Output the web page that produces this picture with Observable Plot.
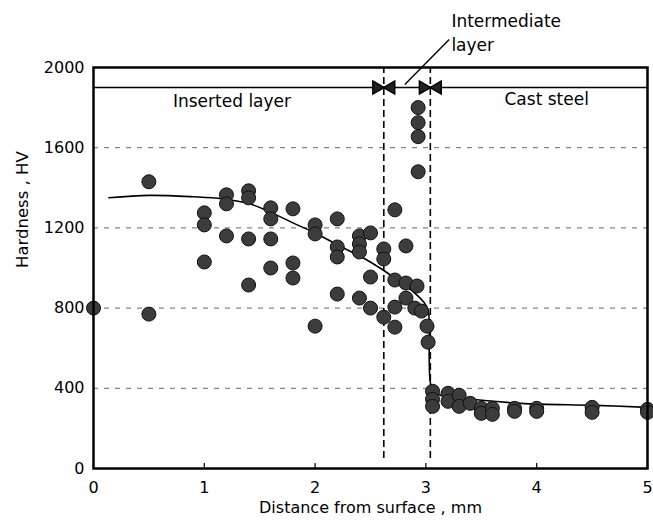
<!DOCTYPE html>
<html>
<head>
<meta charset="utf-8">
<script src="https://cdn.jsdelivr.net/npm/d3@7"></script>
<script src="https://cdn.jsdelivr.net/npm/@observablehq/plot@0.6"></script>
<style>
  html, body { margin: 0; padding: 0; background: #fff; }
  #chart svg { display: block; }
</style>
</head>
<body>
<div id="chart"></div>
<script>
// Measured hardness points (distance from surface, mm ; Hardness, HV)
const distance = [
  0, 0.5, 0.5,
  1.0, 1.0, 1.0,
  1.2, 1.2, 1.2,
  1.4, 1.4, 1.4, 1.4,
  1.6, 1.6, 1.6, 1.6,
  1.8, 1.8, 1.8,
  2.0, 2.0, 2.0,
  2.2, 2.2, 2.2, 2.2,
  2.4, 2.4, 2.4, 2.4,
  2.5, 2.5, 2.5,
  2.62, 2.62, 2.62,
  2.72, 2.72, 2.72, 2.72,
  2.82, 2.82, 2.82,
  2.93, 2.93, 2.93, 2.93, 2.92, 2.9,
  2.96, 3.01, 3.02,
  3.06, 3.06, 3.06,
  3.2, 3.2, 3.3, 3.3, 3.4, 3.5, 3.5, 3.6, 3.6,
  3.8, 3.8, 4.0, 4.0, 4.5, 4.5, 5.0, 5.0
];
const hardness = [
  800, 1430, 770,
  1275, 1215, 1030,
  1365, 1320, 1160,
  1385, 1350, 1145, 915,
  1300, 1245, 1145, 1000,
  1295, 1025, 950,
  1215, 1170, 710,
  1245, 1105, 1055, 870,
  1160, 1120, 1080, 850,
  1175, 955, 800,
  1095, 1045, 755,
  1290, 940, 805, 705,
  1110, 925, 850,
  1800, 1725, 1655, 1480, 910, 800,
  785, 710, 630,
  385, 345, 310,
  375, 335, 365, 310, 325, 300, 275, 300, 270,
  300, 285, 300, 285, 305, 280, 295, 280
];

// Fitted trend curve
const fitX = [0.14, 0.5, 0.9, 1.16, 1.41, 1.61, 1.8, 2.0, 2.22, 2.42, 2.6, 2.78, 2.9, 2.98, 3.02, 3.03, 3.03, 3.04, 3.07, 3.35, 3.86, 4.52, 5.0];
const fitY = [1350, 1362, 1355, 1345, 1320, 1275, 1225, 1175, 1110, 1055, 995, 925, 875, 830, 790, 700, 550, 430, 380, 350, 325, 315, 305];

// Layer boundaries (mm) and the layer-marker line (HV)
const boundaries = [2.62, 3.04];
const markerLevel = 1900;

const xTicks = [0, 1, 2, 3, 4, 5];
const yTicks = [0, 400, 800, 1200, 1600, 2000];
const gridY = [400, 800, 1200, 1600];

const layerLabels = [
  {text: "Inserted layer", x: 1.25, y: 1830},
  {text: "Cast steel", x: 4.09, y: 1840}
];
const noteLines = ["Intermediate", "layer"];

const points = distance.map((d, i) => ({x: d, y: hardness[i]}));
const fit = fitX.map((d, i) => ({x: d, y: fitY[i]}));
const arrows = boundaries.flatMap(b => [{x: b - 0.065, rot: 90}, {x: b + 0.065, rot: -90}]);
const FONT = "DejaVu Sans, Liberation Sans, sans-serif";

const chart = Plot.plot({
  width: 653,
  height: 522,
  marginLeft: 93,
  marginRight: 6,
  marginTop: 67,
  marginBottom: 54,
  style: {fontFamily: FONT, fontSize: "16px", color: "#000", background: "#fff", overflow: "visible"},
  x: {domain: [0, 5], label: null},
  y: {domain: [0, 2000], label: null},
  marks: [
    Plot.ruleY(gridY, {stroke: "#666", strokeWidth: 1, strokeDasharray: "5,6"}),
    Plot.ruleX(xTicks, {y1: 0, y2: 25, stroke: "#000", strokeWidth: 1.2}),
    Plot.ruleX(boundaries, {y1: 50, y2: 2000, stroke: "#000", strokeWidth: 1.6, strokeDasharray: "7,4"}),
    Plot.ruleY([markerLevel], {stroke: "#000", strokeWidth: 1.6}),
    Plot.dot(arrows, {x: "x", y: markerLevel, symbol: "triangle", rotate: "rot", r: 4.8, fill: "#222", stroke: "#000"}),
    Plot.line(fit, {x: "x", y: "y", curve: "catmull-rom", stroke: "#000", strokeWidth: 1.6}),
    Plot.dot(points, {x: "x", y: "y", r: 7, fill: "#3c3c3c", stroke: "#111", strokeWidth: 1}),
    Plot.text(layerLabels, {x: "x", y: "y", text: "text", fontSize: 17, fill: "#000"}),
    Plot.link([{x1: 2.81, y1: markerLevel + 15, x2: 3.21, y2: 2140}], {x1: "x1", y1: "y1", x2: "x2", y2: "y2", stroke: "#000", strokeWidth: 1.4}),
    Plot.text([noteLines[0]], {x: 3.23, y: 2230, textAnchor: "start", fontSize: 17, fill: "#000"}),
    Plot.text([noteLines[1]], {x: 3.23, y: 2110, textAnchor: "start", fontSize: 17, fill: "#000"}),
    Plot.frame({stroke: "#000", strokeWidth: 2.5}),
    Plot.axisX({ticks: xTicks, tickSize: 0, tickPadding: 13, label: null, tickFormat: d => String(d)}),
    Plot.axisY({ticks: yTicks, tickSize: 0, tickPadding: 9, label: null, tickFormat: d => String(d)}),
    Plot.text(["Distance from surface , mm"], {frameAnchor: "bottom", dy: 44, fontSize: 16, fill: "#000"}),
    Plot.text(["Hardness , HV"], {frameAnchor: "left", dx: -71, rotate: -90, fontSize: 16.5, fill: "#000"})
  ]
});
document.getElementById("chart").appendChild(chart);
</script>
</body>
</html>
